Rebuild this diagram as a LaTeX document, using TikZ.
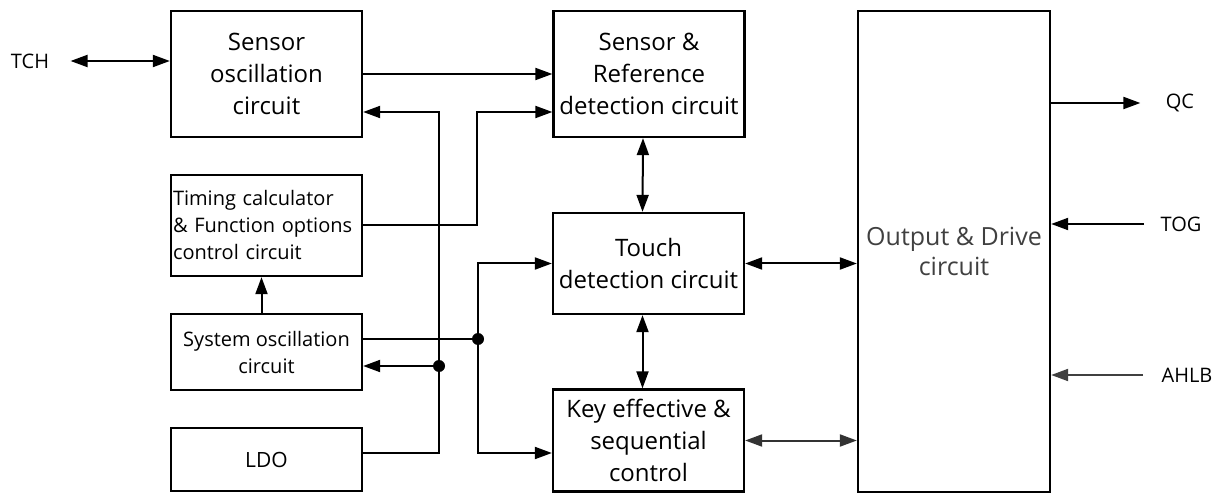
\documentclass[tikz,border=0pt]{standalone}
\usepackage{fontspec}
\setmainfont{Open Sans}
\usetikzlibrary{arrows.meta}

\begin{document}
\begin{tikzpicture}[x=1pt, y=-1pt,
    blk/.style={draw, line width=2.3pt, minimum width=191pt, inner sep=2pt,
      align=center, font=\fontsize{24}{32}\selectfont},
    pin/.style={font=\fontsize{20}{24}\selectfont},
    wire/.style={line width=2pt},
    arr/.style={wire, -{Triangle[length=17pt,width=12pt]}},
    darr/.style={wire, {Triangle[length=17pt,width=12pt]}-{Triangle[length=17pt,width=12pt]}},
    jdot/.style={circle, fill, inner sep=0pt, minimum size=12pt}]
  \useasboundingbox (0,0) rectangle (1223,494);

  % Draw the circuit blocks
  \node[blk, minimum height=126pt] (sosc) at (266.5,74) {Sensor\\oscillation\\circuit};
  \node[blk, minimum height=126pt] (sref) at (649,74) {Sensor \&\\Reference\\detection circuit};
  \node[blk, minimum height=101pt, align=left, text width=187pt, inner sep=2pt,
    font=\fontsize{20}{27}\selectfont] (timing) at (266.5,225.5)
    {Timing calculator\\\& Function options\\control circuit};
  \node[blk, minimum height=76pt, font=\fontsize{20}{27}\selectfont] (sysosc) at (266.5,352)
    {System oscillation\\circuit};
  \node[blk, minimum height=63pt, font=\fontsize{21}{27}\selectfont] (ldo) at (266.5,459.5) {LDO};
  \node[blk, minimum height=101pt] (touch) at (648.5,263.5) {Touch\\detection circuit};
  \node[blk, minimum height=102pt] (key) at (648.5,440.5) {Key effective \&\\sequential\\control};
  \node[blk, minimum width=192pt, minimum height=481pt, text=black!75,
    font=\fontsize{25}{30}\selectfont] (out) at (954,251.5) {Output \& Drive\\circuit};

  % Pins
  \node[pin] (tch) at (30,61) {TCH};
  \node[pin] (qc) at (1180,103) {QC};
  \foreach \name/\txt/\x/\y in {tog/TOG/1181/224, ahlb/AHLB/1187/375}
    \node[pin] (\name) at (\x,\y) {\txt};

  % Junctions
  \coordinate (pw) at (439,112);
  \coordinate (tj) at (477,112);
  \node[jdot] (pdot) at (439,366) {};
  \node[jdot] (cdot) at (478,339) {};

  % Sensor side
  \draw[darr, shorten <=18pt] (tch.east) -- (tch.east -| sosc.west);
  \draw[arr] (sosc.east) -- (sref.west);
  \draw[arr] ([yshift=6.5pt]ldo.east) -| (pw) -- (pw -| sosc.east);
  \draw[arr] (pdot) -- (pdot -| sysosc.east);
  \draw[arr] (timing.east) -| (tj) -- (tj -| sref.west);
  \draw[arr] ([xshift=-5pt]sysosc.north) -- ([xshift=-5pt]timing.south);

  % System clock to detection blocks
  \draw[wire] (cdot -| sysosc.east) -- (cdot);
  \draw[arr] (cdot) |- (touch.west);
  \draw[arr] (cdot) |- ([yshift=-12.5pt]key.west);

  % Detection chain
  \draw[darr] ([xshift=-6pt]sref.south) -- ([xshift=-6pt]touch.north);
  \draw[darr] ([xshift=-6pt]touch.south) -- ([xshift=-6pt]key.north);
  \draw[darr] (touch.east) -- (touch.east -| out.west);
  \draw[darr, black!80] (key.east) -- (key.east -| out.west);

  % Output side
  \draw[arr, shorten >=22pt] (qc.west -| out.east) -- (qc.west);
  \draw[arr, shorten <=13pt] (tog.west) -- (tog.west -| out.east);
  \draw[arr, black!75, shorten <=15pt] (ahlb.west) -- (ahlb.west -| out.east);
\end{tikzpicture}
\end{document}
